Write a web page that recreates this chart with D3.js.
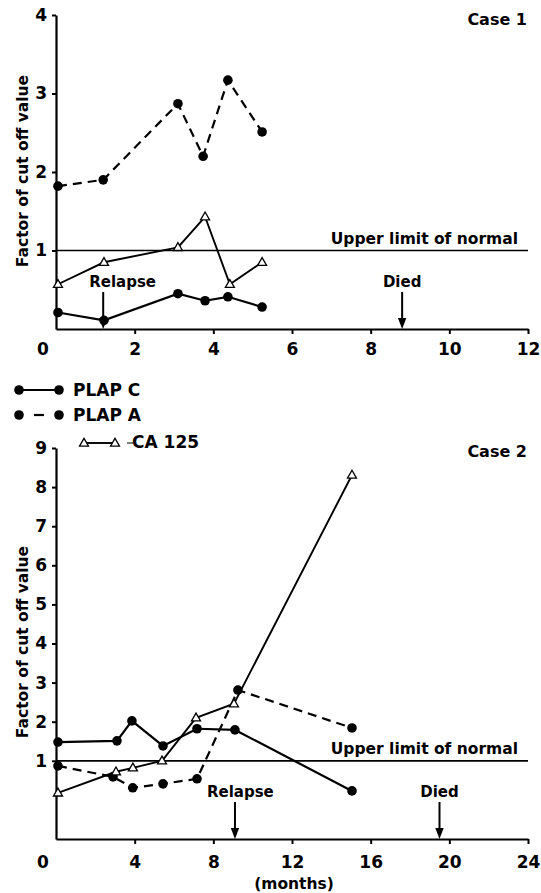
<!DOCTYPE html>
<html><head><meta charset="utf-8">
<script src="https://cdn.jsdelivr.net/npm/d3@7"></script>
<style>
body{margin:0;background:#fff}
text{font-family:"DejaVu Sans",sans-serif;font-weight:bold;fill:#000}
</style>
</head><body>
<svg id="c" width="541" height="893"></svg>
<script>
// ---------- DATA ----------
// Case 1
const c1PlapCMonths = [0.05, 1.22, 3.1, 3.79, 4.37, 5.24];
const c1PlapCValues = [0.21, 0.11, 0.45, 0.36, 0.41, 0.28];
const c1PlapAMonths = [0.05, 1.2, 3.1, 3.74, 4.37, 5.24];
const c1PlapAValues = [1.82, 1.90, 2.87, 2.20, 3.17, 2.51];
const c1Ca125Months = [0.05, 1.22, 3.1, 3.79, 4.42, 5.24];
const c1Ca125Values = [0.57, 0.85, 1.04, 1.43, 0.57, 0.85];
const c1XTicks = [2, 4, 6, 8, 10, 12];
const c1YTicks = [1, 2, 3, 4];
const c1Events = [{label: "Relapse", month: 1.2}, {label: "Died", month: 8.8}];
// Case 2
const c2PlapCMonths = [0.1, 3.1, 3.86, 5.44, 7.17, 9.1, 15.05];
const c2PlapCValues = [1.48, 1.51, 2.02, 1.38, 1.82, 1.79, 0.23];
const c2PlapAMonths = [0.1, 2.9, 3.9, 5.44, 7.17, 9.25, 15.05];
const c2PlapAValues = [0.87, 0.59, 0.31, 0.41, 0.54, 2.81, 1.84];
const c2Ca125Months = [0.1, 3.05, 3.91, 5.39, 7.12, 9.05, 15.05];
const c2Ca125Values = [0.18, 0.72, 0.82, 1.0, 2.10, 2.46, 8.31];
const c2XTicks = [4, 8, 12, 16, 20, 24];
const c2YTicks = [1, 2, 3, 4, 5, 6, 7, 8, 9];
const c2Events = [{label: "Relapse", month: 9.1}, {label: "Died", month: 19.5}];
const upperLimit = 1;
const seriesNames = ["PLAP C", "PLAP A", "CA 125"];

// ---------- DRAW ----------
const svg = d3.select("#c");
const zip = (xs, ys) => xs.map((m, i) => ({m, v: ys[i]}));
const TF = '"DejaVu Sans",sans-serif';
const tickFont = "17px";

function triPath(cx, cy, s) {
  const h = s * 0.87;
  return `M${cx},${cy - h*0.6}L${cx + s/2},${cy + h*0.4}L${cx - s/2},${cy + h*0.4}Z`;
}

function panel(cfg) {
  const g = svg.append("g");
  const x = d3.scaleLinear().domain(cfg.xDomain).range([56, 528]);
  const y = d3.scaleLinear().domain(cfg.yDomain).range(cfg.yRange);
  const axisY = y(cfg.yDomain[0]);

  // axes
  const ya = g.append("g").attr("transform", "translate(56,0)")
    .call(d3.axisLeft(y).tickValues(cfg.yTicks).tickFormat(d3.format("d")).tickSize(4).tickPadding(5).tickSizeOuter(0));
  const xa = g.append("g").attr("transform", `translate(0,${axisY})`)
    .call(d3.axisBottom(x).tickValues(cfg.xTicks).tickFormat(d3.format("d")).tickSize(5).tickPadding(cfg.xPad).tickSizeOuter(0));
  [ya, xa].forEach(a => {
    a.attr("font-family", null).attr("font-size", null);
    a.select(".domain").attr("stroke", "#000").attr("stroke-width", 2.2);
    a.selectAll(".tick line").attr("stroke", "#000").attr("stroke-width", 2);
    a.selectAll("text").style("font-size", tickFont).style("font-family", TF).style("font-weight", "bold");
  });
  g.append("text").attr("x", 43).attr("y", axisY + cfg.xPad + 5).attr("dy", "0.71em")
    .attr("text-anchor", "middle").style("font-size", tickFont).text("0");

  // y title
  g.append("text").attr("transform", `translate(27.5,${cfg.titleY}) rotate(-90)`)
    .attr("text-anchor", "middle").style("font-size", "15.5px").text("Factor of cut off value");

  // upper limit
  g.append("line").attr("x1", x(cfg.xDomain[0])).attr("x2", x(cfg.xDomain[1]))
    .attr("y1", y(upperLimit)).attr("y2", y(upperLimit)).attr("stroke", "#000").attr("stroke-width", 1.7);
  g.append("text").attr("x", 518).attr("y", y(upperLimit) - 7).attr("text-anchor", "end")
    .style("font-size", "15.5px").text("Upper limit of normal");

  // case label
  g.append("text").attr("x", 527).attr("y", cfg.caseY).attr("text-anchor", "end")
    .style("font-size", "16px").text(cfg.caseLabel);

  // events
  cfg.events.forEach(e => {
    const ex = x(e.month);
    g.append("line").attr("x1", ex).attr("x2", ex).attr("y1", axisY - 37).attr("y2", axisY - 8)
      .attr("stroke", "#000").attr("stroke-width", 2);
    g.append("path").attr("d", `M${ex - 4.2},${axisY - 11}L${ex + 4.2},${axisY - 11}L${ex},${axisY}Z`).attr("fill", "#000");
    const t = g.append("text").attr("y", axisY - 42).style("font-size", "15px").text(e.label);
    if (e.label === "Relapse") t.attr("x", ex + cfg.relapseDx);
    else t.attr("x", ex).attr("text-anchor", "middle");
  });

  const line = d3.line().x(d => x(d.m)).y(d => y(d.v));
  g.append("path").datum(cfg.plapA).attr("d", line).attr("fill", "none").attr("stroke", "#000")
    .attr("stroke-width", 2.2).attr("stroke-dasharray", "9,6");
  g.append("path").datum(cfg.plapC).attr("d", line).attr("fill", "none").attr("stroke", "#000").attr("stroke-width", 2.2);
  g.append("path").datum(cfg.ca125).attr("d", line).attr("fill", "none").attr("stroke", "#000").attr("stroke-width", 1.9);

  g.selectAll(".dA").data(cfg.plapA).join("circle").attr("cx", d => x(d.m)).attr("cy", d => y(d.v)).attr("r", 4.8).attr("fill", "#000");
  g.selectAll(".dC").data(cfg.plapC).join("circle").attr("cx", d => x(d.m)).attr("cy", d => y(d.v)).attr("r", 4.8).attr("fill", "#000");
  g.selectAll(".dT").data(cfg.ca125).join("path").attr("d", d => triPath(x(d.m), y(d.v), 9))
    .attr("fill", "#fff").attr("stroke", "#000").attr("stroke-width", 1.3);
}

panel({
  xDomain: [0, 12], yDomain: [0, 4], yRange: [329, 15], xTicks: c1XTicks, yTicks: c1YTicks, xPad: 9,
  titleY: 171, caseLabel: "Case 1", caseY: 25, events: c1Events, relapseDx: -14,
  plapC: zip(c1PlapCMonths, c1PlapCValues), plapA: zip(c1PlapAMonths, c1PlapAValues), ca125: zip(c1Ca125Months, c1Ca125Values)
});
panel({
  xDomain: [0, 24], yDomain: [-1, 9], yRange: [839, 448], xTicks: c2XTicks, yTicks: c2YTicks, xPad: 12,
  titleY: 642, caseLabel: "Case 2", caseY: 457, events: c2Events, relapseDx: -28,
  plapC: zip(c2PlapCMonths, c2PlapCValues), plapA: zip(c2PlapAMonths, c2PlapAValues), ca125: zip(c2Ca125Months, c2Ca125Values)
});

// x title bottom
svg.append("text").attr("x", 294).attr("y", 889).attr("text-anchor", "middle").style("font-size", "15.5px").text("(months)");

// legend
const lg = svg.append("g");
const lf = "17px";
lg.append("line").attr("x1", 19).attr("x2", 59).attr("y1", 390).attr("y2", 390).attr("stroke", "#000").attr("stroke-width", 2.2);
[19, 59].forEach(cx => lg.append("circle").attr("cx", cx).attr("cy", 390).attr("r", 4.8).attr("fill", "#000"));
lg.append("text").attr("x", 73).attr("y", 396).style("font-size", lf).text(seriesNames[0]);
lg.append("line").attr("x1", 34).attr("x2", 44).attr("y1", 415).attr("y2", 415).attr("stroke", "#000").attr("stroke-width", 2.2);
[19, 59].forEach(cx => lg.append("circle").attr("cx", cx).attr("cy", 415).attr("r", 4.8).attr("fill", "#000"));
lg.append("text").attr("x", 73).attr("y", 421).style("font-size", lf).text(seriesNames[1]);
lg.append("line").attr("x1", 84).attr("x2", 115).attr("y1", 443).attr("y2", 443).attr("stroke", "#000").attr("stroke-width", 1.9);
lg.append("line").attr("x1", 127).attr("x2", 133).attr("y1", 443).attr("y2", 443).attr("stroke", "#000").attr("stroke-width", 1);
[84, 115].forEach(cx => lg.append("path").attr("d", triPath(cx, 443, 9)).attr("fill", "#fff").attr("stroke", "#000").attr("stroke-width", 1.3));
lg.append("text").attr("x", 132).attr("y", 448).style("font-size", lf).text(seriesNames[2]);
</script>
</body></html>
